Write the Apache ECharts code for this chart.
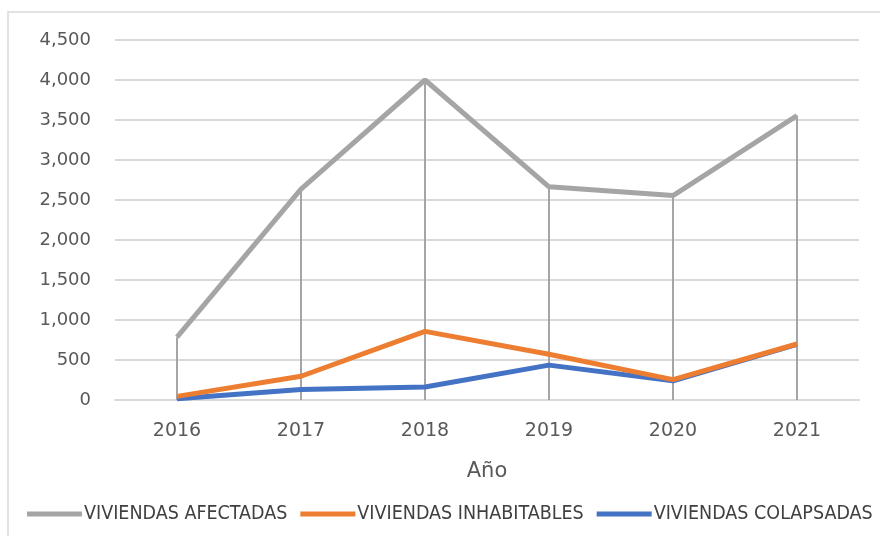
<!DOCTYPE html>
<html>
<head>
<meta charset="utf-8">
<script src="https://cdn.jsdelivr.net/npm/echarts@6/dist/echarts.min.js"></script>
<style>
  html, body { margin: 0; padding: 0; background: #fff; }
  #chart { width: 880px; height: 536px; }
</style>
</head>
<body>
<div id="chart"></div>
<script>
  // datos
  var years = ['2016', '2017', '2018', '2019', '2020', '2021'];
  var afectadas = [785, 2635, 4000, 2665, 2555, 3555];
  var inhabitables = [45, 297, 858, 572, 255, 700];
  var colapsadas = [15, 130, 162, 436, 240, 695];
  var yTicks = [0, 500, 1000, 1500, 2000, 2500, 3000, 3500, 4000, 4500];

  var txt = '#595959';
  var font = 'DejaVu Sans';

  var chart = echarts.init(document.getElementById('chart'));
  chart.setOption({
    animation: false,
    backgroundColor: '#fff',
    graphic: [{
      type: 'rect',
      shape: { x: 8, y: 12, width: 900, height: 600 },
      style: { fill: 'none', stroke: '#d9d9d9', lineWidth: 1.5 },
      silent: true
    }],
    grid: { left: 115, right: 21, top: 40, bottom: 136 },
    legend: {
      left: 22,
      top: 499,
      width: 1500,
      itemWidth: 55,
      itemHeight: 5,
      itemGap: 13,
      icon: 'rect',
      textStyle: { color: '#404040', fontFamily: 'DejaVu Sans Condensed', fontSize: 19.5, padding: [0, 0, 0, -3] },
      data: ['VIVIENDAS AFECTADAS', 'VIVIENDAS INHABITABLES', 'VIVIENDAS COLAPSADAS']
    },
    xAxis: {
      type: 'category',
      data: years,
      name: 'Año',
      nameLocation: 'middle',
      nameGap: 61,
      nameTextStyle: { color: txt, fontFamily: font, fontSize: 21 },
      axisLine: { lineStyle: { color: '#d9d9d9', width: 2 } },
      axisTick: { show: false },
      axisLabel: { color: txt, fontFamily: font, fontSize: 19, margin: 22 }
    },
    yAxis: {
      type: 'value',
      min: yTicks[0],
      max: yTicks[yTicks.length - 1],
      interval: 500,
      axisLine: { show: false },
      axisTick: { show: false },
      splitLine: { lineStyle: { color: '#d9d9d9', width: 2 } },
      axisLabel: {
        color: txt, fontFamily: font, fontSize: 18, margin: 24,
        formatter: function (v) { return v.toLocaleString('en-US'); }
      }
    },
    series: [
      {
        // líneas de caída
        name: 'caida',
        type: 'bar',
        data: afectadas,
        barWidth: 2,
        itemStyle: { color: '#a5a5a5' },
        z: 1
      },
      {
        name: 'VIVIENDAS AFECTADAS',
        type: 'line',
        data: afectadas,
        symbol: 'none',
        lineStyle: { color: '#a5a5a5', width: 5 },
        itemStyle: { color: '#a5a5a5' },
        z: 2
      },
      {
        name: 'VIVIENDAS INHABITABLES',
        type: 'line',
        data: inhabitables,
        symbol: 'none',
        lineStyle: { color: '#ed7d31', width: 5 },
        itemStyle: { color: '#ed7d31' },
        z: 4
      },
      {
        name: 'VIVIENDAS COLAPSADAS',
        type: 'line',
        data: colapsadas,
        symbol: 'none',
        lineStyle: { color: '#4472c4', width: 5 },
        itemStyle: { color: '#4472c4' },
        z: 3
      }
    ]
  });
</script>
</body>
</html>
